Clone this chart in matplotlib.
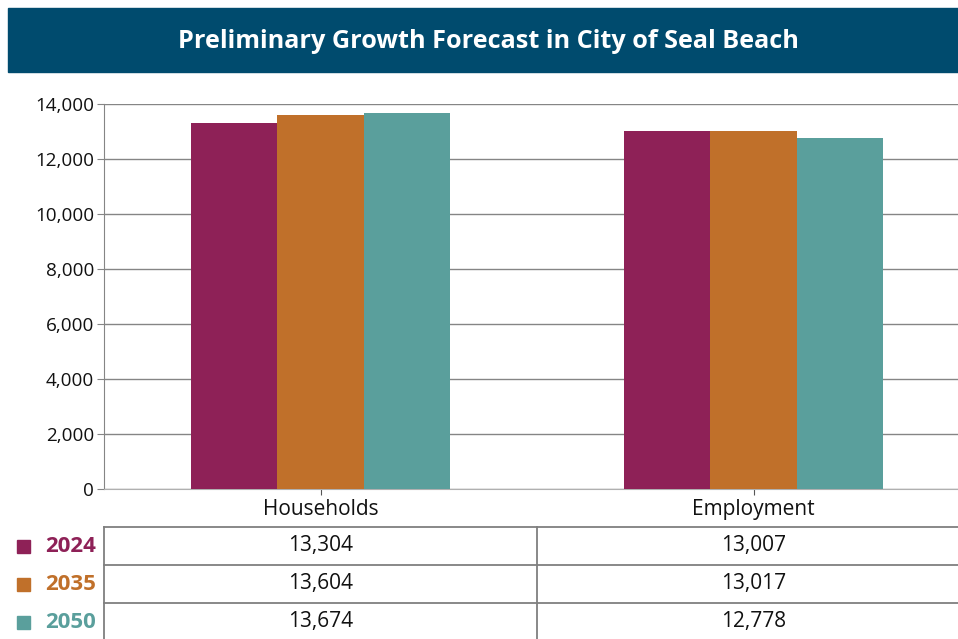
import matplotlib
matplotlib.use("Agg")
import matplotlib.pyplot as plt
from matplotlib.patches import Rectangle
from matplotlib.ticker import FuncFormatter
import numpy as np

plt.rcParams['font.family'] = ['Open Sans', 'DejaVu Sans']

title = "Preliminary Growth Forecast in City of Seal Beach"
categories = ["Households", "Employment"]
years = ["2024", "2035", "2050"]
values = {
    "2024": [13304, 13007],
    "2035": [13604, 13017],
    "2050": [13674, 12778],
}
colors = ["#8E2157", "#C0702A", "#5A9F9C"]
yticks = [0, 2000, 4000, 6000, 8000, 10000, 12000, 14000]

W, H = 958, 639
fig = plt.figure(figsize=(W / 100, H / 100), dpi=100)

def fx(px):
    return px / W

def fy(py):
    return 1 - py / H

# Title banner
fig.patches.append(Rectangle((fx(8), fy(72)), fx(958 - 8), 64 / H,
                             transform=fig.transFigure, color="#004B6E", zorder=0))
fig.text(fx(488), fy(41), title, color="white", fontsize=18.2, fontweight="bold",
         ha="center", va="center")

# Main axes
ax_left, ax_right, ax_top, ax_bot = 104, 970, 104, 489
ax = fig.add_axes([fx(ax_left), fy(ax_bot), fx(ax_right - ax_left), (ax_bot - ax_top) / H])
x = np.arange(len(categories))
bw = 0.2
for i, yr in enumerate(years):
    ax.bar(x + (i - 1) * bw, values[yr], width=bw, color=colors[i], zorder=3)
ax.set_xlim(-0.5, len(categories) - 0.5)
ax.set_ylim(0, 14000)
ax.set_yticks(yticks)
ax.yaxis.set_major_formatter(FuncFormatter(lambda v, p: f"{int(v):,}"))
ax.set_xticks(x)
ax.set_xticklabels(categories)
ax.grid(axis="y", color="#858585", linewidth=1.0, zorder=0)
for s in ["top", "right"]:
    ax.spines[s].set_visible(False)
ax.spines["left"].set_color("#858585")
ax.spines["bottom"].set_color("#b0b0b0")
ax.tick_params(axis="y", labelsize=13.6, color="#858585", length=5, pad=2, labelcolor="#111111")
ax.tick_params(axis="x", labelsize=15, color="#555555", length=4, pad=3, labelcolor="#111111")

# Data table
t_top, t_bot = 527, 641
tax = fig.add_axes([fx(ax_left), fy(t_bot), fx(ax_right - ax_left), (t_bot - t_top) / H])
tax.set_xlim(-0.5, len(categories) - 0.5)
tax.set_ylim(len(years), 0)
tax.axis("off")
lc = "#7f7f7f"
for r in range(len(years) + 1):
    tax.plot([-0.5, len(categories) - 0.5], [r, r], color=lc, lw=1.3, clip_on=False)
for c in range(len(categories) + 1):
    tax.plot([c - 0.5, c - 0.5], [0, len(years)], color=lc, lw=1.3, clip_on=False)
for r, yr in enumerate(years):
    for c in range(len(categories)):
        tax.text(c, r + 0.5, f"{values[yr][c]:,}", ha="center", va="center",
                 fontsize=15, color="#111111")
    yc = fy(t_top + (r + 0.5) * (t_bot - t_top) / len(years))
    fig.patches.append(Rectangle((fx(17), yc - 6.5 / H), fx(13), 13 / H,
                                 transform=fig.transFigure, color=colors[r]))
    fig.text(fx(45), yc, yr, color=colors[r], fontsize=16, fontweight="bold",
             ha="left", va="center")

fig.savefig("out.png", dpi=100)
